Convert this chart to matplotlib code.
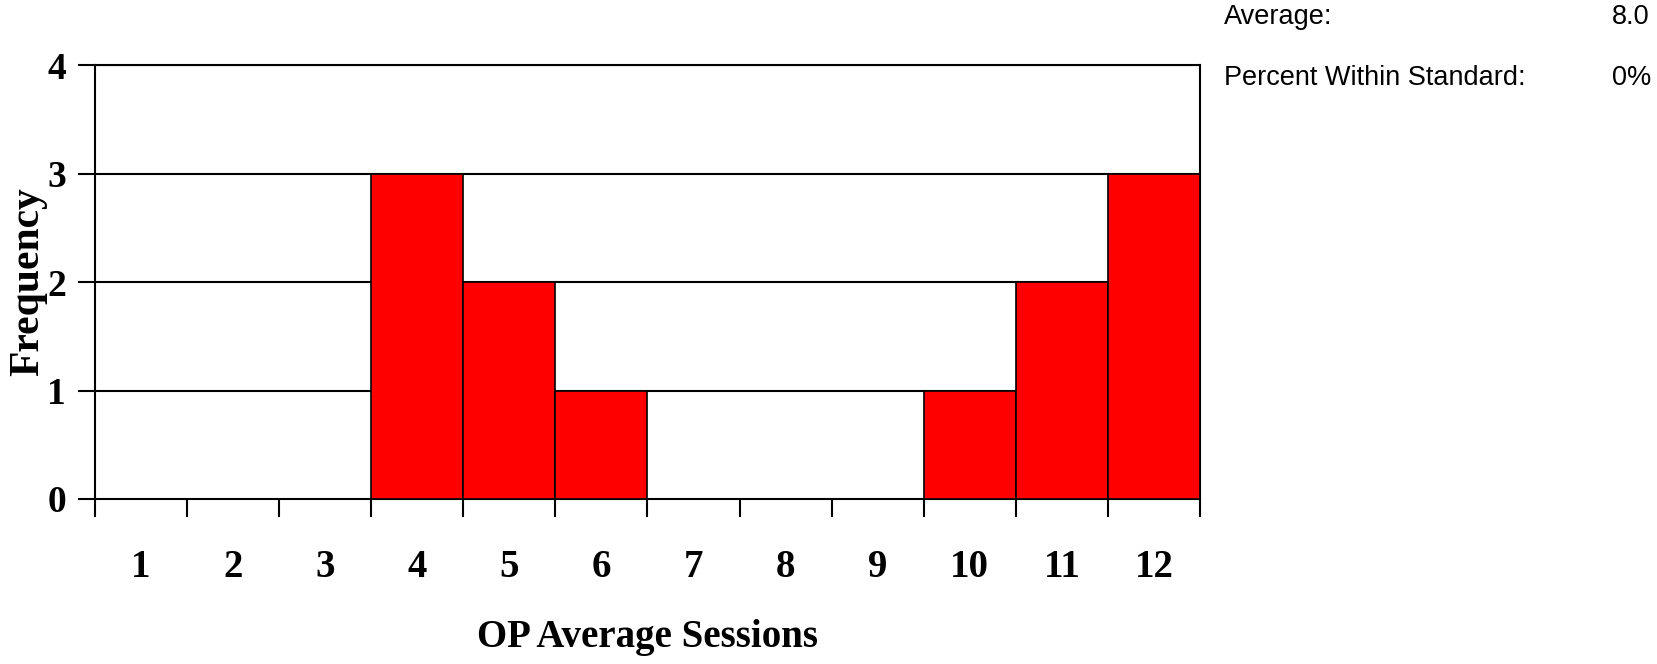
import numpy as np
import matplotlib.pyplot as plt

# histogram of OP average sessions
sessions = [1, 2, 3, 4, 5, 6, 7, 8, 9, 10, 11, 12]
frequency = [0, 0, 0, 3, 2, 1, 0, 0, 0, 1, 2, 3]
y_ticks = [0, 1, 2, 3, 4]
stat_labels = ["Average:", "Percent Within Standard:"]
stat_values = ["8.0", "0%"]

plt.rcParams['font.family'] = ['Liberation Serif', 'DejaVu Serif']

fig = plt.figure(figsize=(16.57, 6.64), dpi=100)
ax = fig.add_axes([0.0573, 0.2485, 0.6669, 0.6535])

ax.bar(sessions, frequency, width=1.0, color="#ff0000", edgecolor="black", linewidth=1.2, zorder=3)

ax.set_xlim(0.5, 12.5)
ax.set_ylim(0, 4)
ax.set_yticks(y_ticks)
ax.set_yticklabels([str(v) for v in y_ticks], fontsize=27, fontweight="bold")
for v in y_ticks[1:]:
    ax.axhline(v, color="black", linewidth=1.5, zorder=1)

ax.set_xticks(sessions)
ax.set_xticklabels([str(s) for s in sessions], fontsize=28, fontweight="bold")
ax.set_xticks(np.arange(0.5, 13, 1), minor=True)
ax.tick_params(axis="x", which="major", length=0, pad=36)
ax.tick_params(axis="x", which="minor", length=13, width=1.5, direction="out")
ax.tick_params(axis="y", length=12, width=1.5, direction="out", pad=9)

for s in ax.spines.values():
    s.set_linewidth(1.5)

ax.set_xlabel("OP Average Sessions", fontsize=28, fontweight="bold", labelpad=24)
ax.set_ylabel("Frequency", fontsize=30, fontweight="bold", labelpad=0)

for i, (lab, val) in enumerate(zip(stat_labels, stat_values)):
    y = 1 - (17 + i * 61) / 664
    fig.text(1224 / 1657, y, lab, fontsize=19.5, family="Liberation Sans", va="center", ha="left")
    fig.text(1612 / 1657, y, val, fontsize=19.5, family="Liberation Sans", va="center", ha="left")

fig.savefig("out.png", dpi=100)
